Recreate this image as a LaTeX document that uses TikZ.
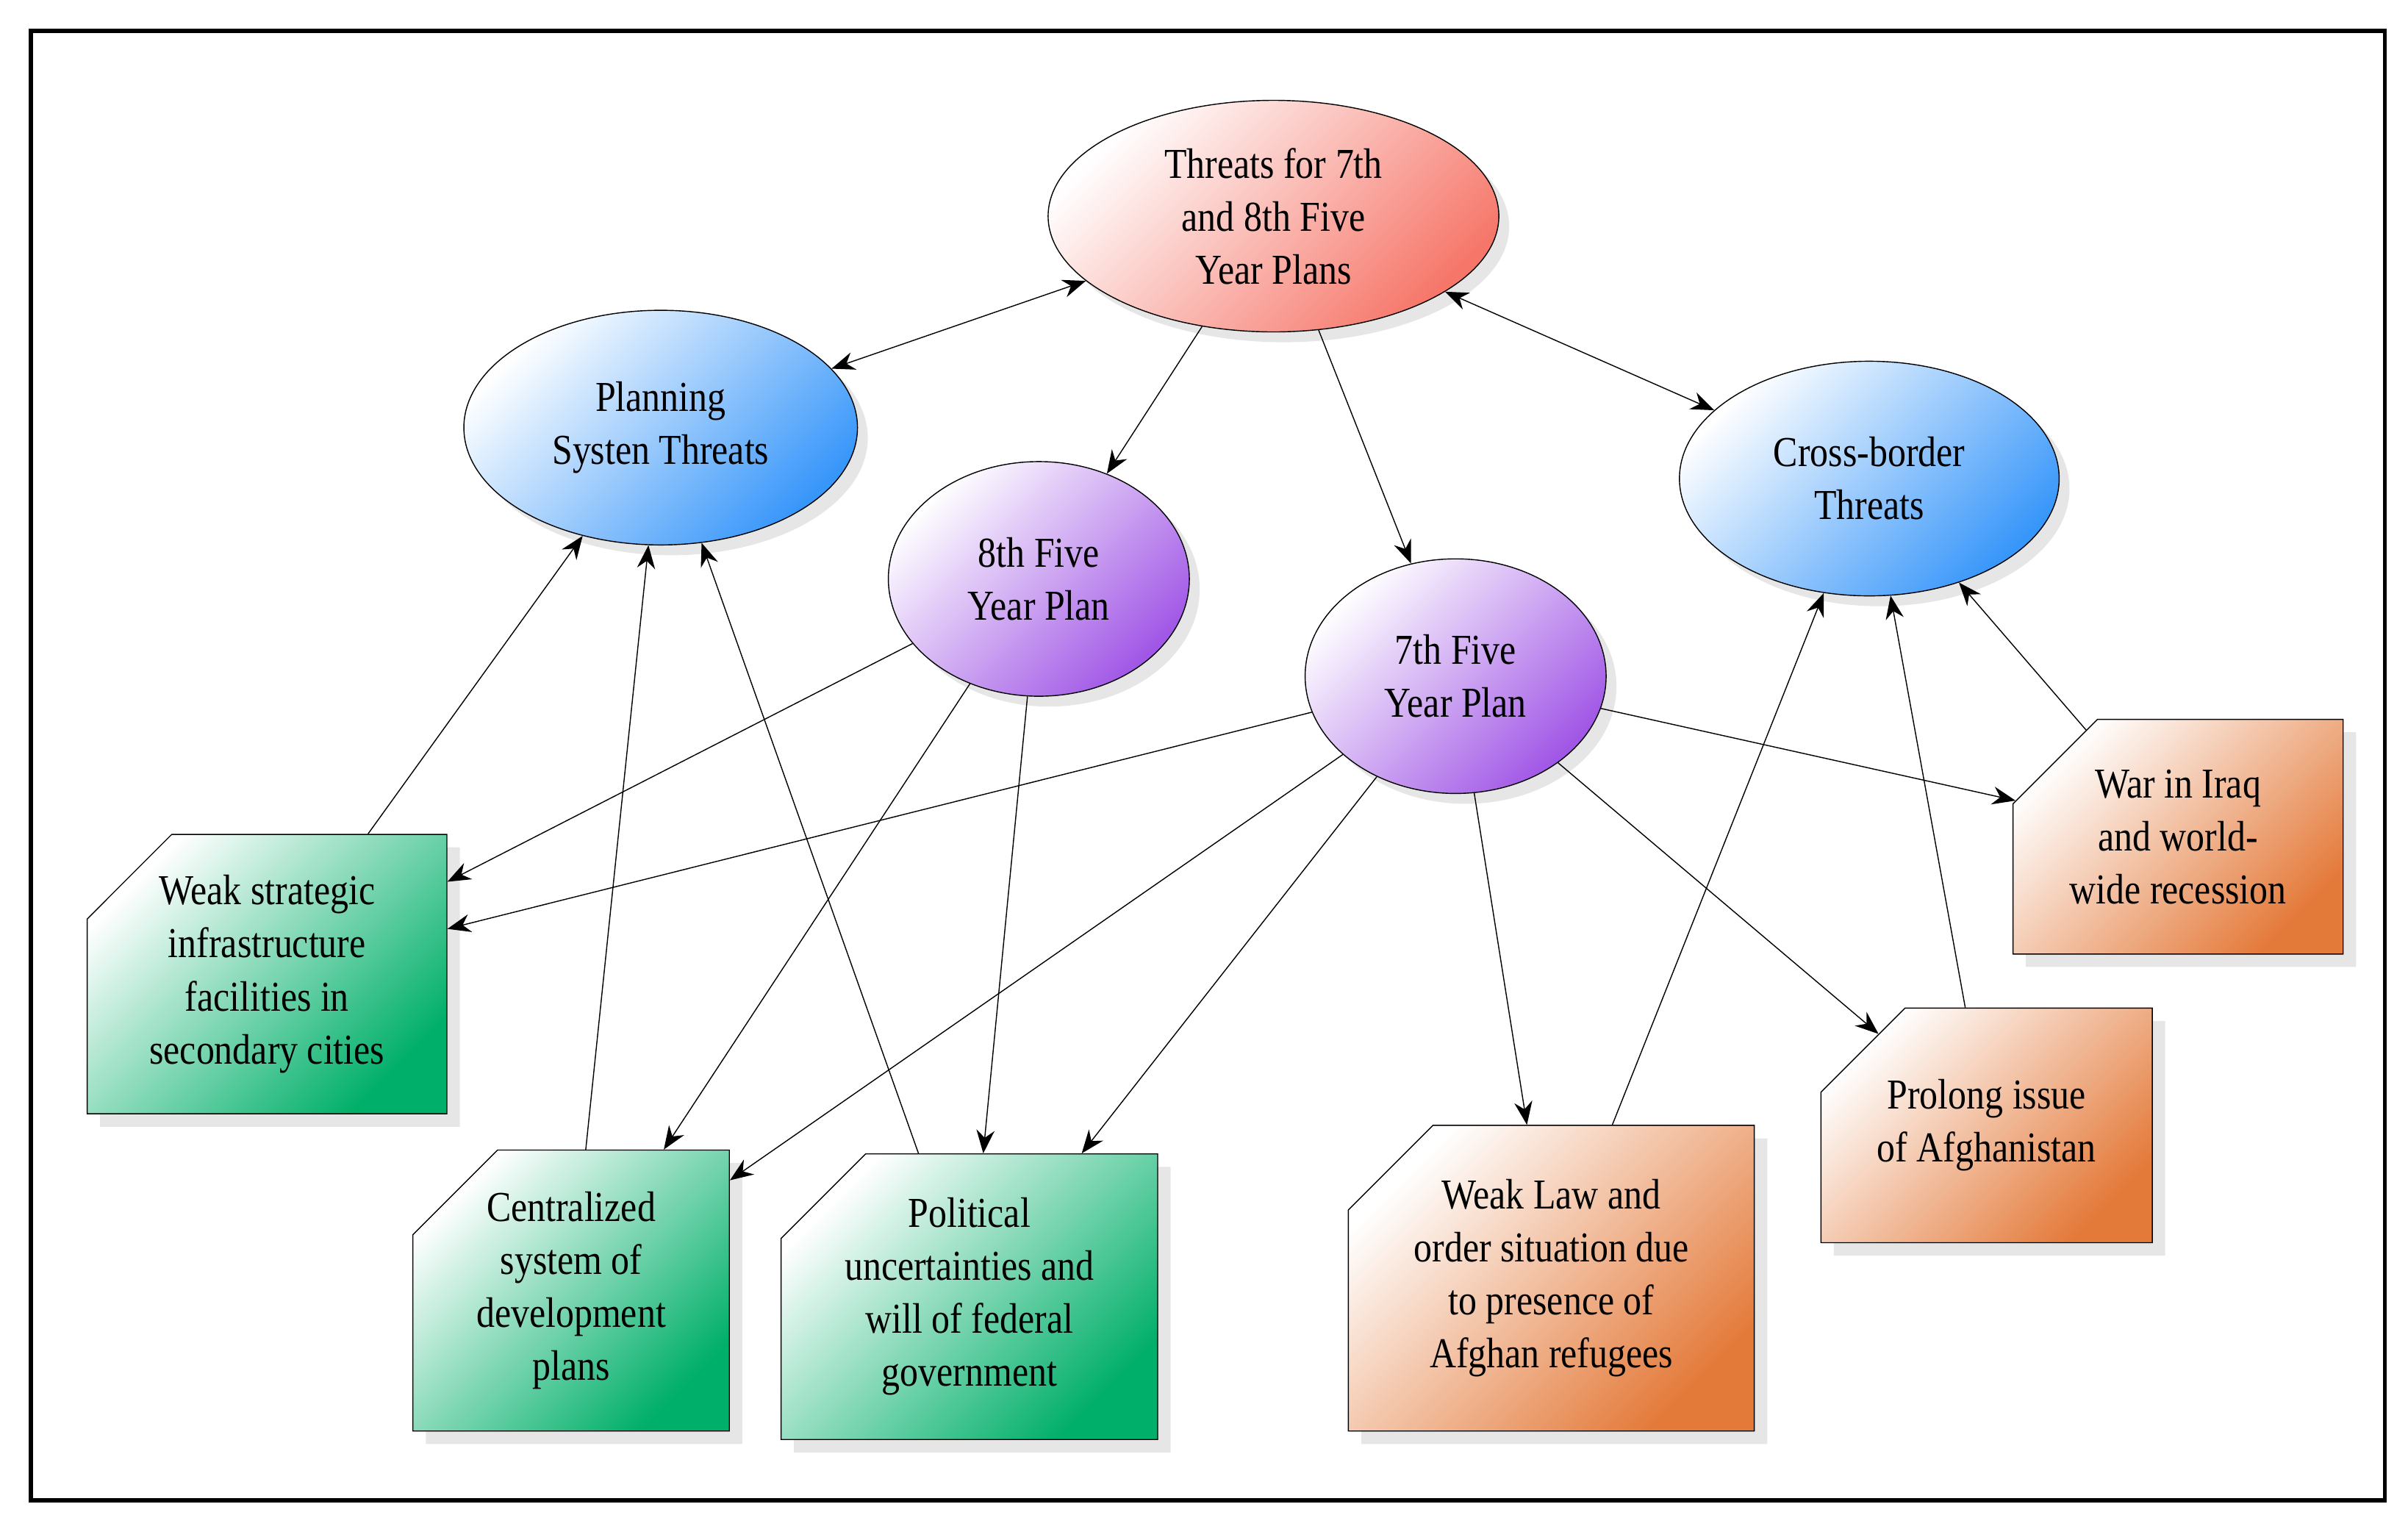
\documentclass[tikz,border=0pt]{standalone}
\usepackage{fontspec}
\setmainfont[FakeStretch=0.86]{Liberation Serif}
\usetikzlibrary{shapes.misc,shapes.geometric,shadows,arrows.meta}
\definecolor{ovalred}{RGB}{246,118,105}
\definecolor{ovalblue}{RGB}{55,150,250}
\definecolor{ovalpurp}{RGB}{160,85,230}
\definecolor{boxgreen}{RGB}{0,175,105}
\definecolor{boxorange}{RGB}{228,122,58}

\begin{document}
\begin{tikzpicture}[x=0.021cm,y=-0.021cm]
    \tikzset{
      txt/.style={font=\fontsize{16.5}{20.5}\selectfont,align=center,inner sep=2pt},
      oval/.style={ellipse,draw=black,txt,drop shadow={opacity=0.2,shadow xshift=4pt,shadow yshift=-4pt}},
      note/.style={chamfered rectangle,chamfered rectangle corners=north west,
        chamfered rectangle xsep=0.7cm,chamfered rectangle ysep=0.45cm,draw=black,txt,
        drop shadow={opacity=0.2,shadow xshift=5pt,shadow yshift=-5pt}},
      redo/.style={oval,left color=white,right color=ovalred,shading angle=45},
      blueo/.style={oval,left color=white,right color=ovalblue,shading angle=45},
      purpo/.style={oval,left color=white,right color=ovalpurp,shading angle=45},
      greenb/.style={note,left color=white,right color=boxgreen,shading angle=45},
      orangeb/.style={note,left color=white,right color=boxorange,shading angle=45},
      link/.style={-{Stealth[length=9pt,width=7pt]},black,thin},
      dlink/.style={{Stealth[length=9pt,width=7pt]}-{Stealth[length=9pt,width=7pt]},black,thin}
    }
    \useasboundingbox (0,0) rectangle (1560,990);
    \draw[line width=1.6pt] (20,20) rectangle (1545,972);

    % ovals
    \node[redo,minimum width=292*0.021cm,minimum height=150*0.021cm] (top) at (825,140) {Threats for 7th\\and 8th Five\\Year Plans};
    \node[blueo,minimum width=255*0.021cm,minimum height=152*0.021cm] (plan) at (428,277) {Planning\\Systen Threats};
    \node[blueo,minimum width=246*0.021cm,minimum height=152*0.021cm] (cross) at (1211,310) {Cross-border\\Threats};
    \node[purpo,minimum width=195*0.021cm,minimum height=152*0.021cm] (eighth) at (673,375) {8th Five\\Year Plan};
    \node[purpo,minimum width=195*0.021cm,minimum height=152*0.021cm] (seventh) at (943,438) {7th Five\\Year Plan};

    % boxes
    \node[greenb,minimum width=233*0.021cm,minimum height=181*0.021cm] (weak) at (173,631) {Weak strategic\\infrastructure\\facilities in\\secondary cities};
    \node[greenb,minimum width=205*0.021cm,minimum height=182*0.021cm] (central) at (370,836) {Centralized\\system of\\development\\plans};
    \node[greenb,minimum width=244*0.021cm,minimum height=185*0.021cm] (polit) at (628,840) {Political\\uncertainties and\\will of federal\\government};
    \node[orangeb,minimum width=263*0.021cm,minimum height=198*0.021cm] (law) at (1005,828) {Weak Law and\\order situation due\\to presence of\\Afghan refugees};
    \node[orangeb,minimum width=211*0.021cm,minimum height=152*0.021cm] (prolong) at (1287,729) {Prolong issue\\of Afghanistan};
    \node[orangeb,minimum width=197*0.021cm,minimum height=152*0.021cm] (iraq) at (1411,542) {War in Iraq\\and world-\\wide recession};

    % connectors
    \draw[dlink] (plan) -- (top);
    \draw[dlink] (top) -- (cross);
    \draw[link] (top) -- (eighth);
    \draw[link] (top) -- (seventh);

    \draw[link] (weak) -- (plan);
    \draw[link] (central) -- (plan);
    \draw[link] (polit) -- (plan);

    \draw[link] (eighth) -- (weak);
    \draw[link] (eighth) -- (central);
    \draw[link] (eighth) -- (polit);

    \draw[link] (seventh) -- (weak);
    \draw[link] (seventh) -- (central);
    \draw[link] (seventh) -- (polit);
    \draw[link] (seventh) -- (law);
    \draw[link] (seventh) -- (prolong);
    \draw[link] (seventh) -- (iraq);

    \draw[link] (law) -- (cross);
    \draw[link] (prolong) -- (cross);
    \draw[link] (iraq) -- (cross);
\end{tikzpicture}
\end{document}
